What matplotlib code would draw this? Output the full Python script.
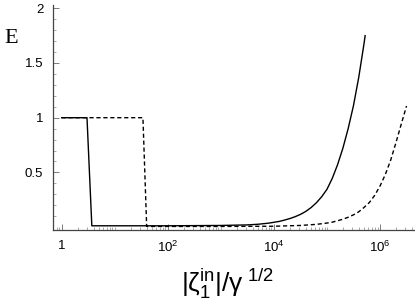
import matplotlib
matplotlib.use("Agg")
import matplotlib.pyplot as plt
from matplotlib.ticker import FixedLocator, NullFormatter
import numpy as np

plt.rcParams['font.family'] = ['Liberation Sans', 'DejaVu Sans']
plt.rcParams['mathtext.fontset'] = 'custom'
plt.rcParams['mathtext.rm'] = 'Liberation Sans'
plt.rcParams['mathtext.it'] = 'Liberation Sans:italic'

# solid curve
solid_x = [1, 3.0, 3.7, 100, 1000, 3162, 5012, 7943, 1e4, 12589, 15849, 19953, 25119,
           31623, 39811, 50119, 63096, 79433, 1e5, 125893, 158489, 199526, 251189,
           316228, 398107, 501187, 524808]
solid_E = [1, 1, 0.012, 0.012, 0.015, 0.02, 0.026, 0.036, 0.044, 0.052, 0.064, 0.078, 0.095,
           0.116, 0.143, 0.178, 0.222, 0.277, 0.345, 0.445, 0.57, 0.72, 0.9,
           1.11, 1.37, 1.68, 1.75]

# dashed curve
dash_x = [1, 34, 40, 1000, 1e4, 31623, 63096, 1e5, 125893, 158489, 199526, 251189,
          316228, 398107, 501187, 630957, 794328, 1e6, 1258925, 1584893, 1995262,
          2511886, 3162278]
dash_E = [1, 1, 0.006, 0.006, 0.008, 0.015, 0.025, 0.037, 0.045, 0.058, 0.072, 0.09,
          0.112, 0.14, 0.18, 0.225, 0.29, 0.375, 0.48, 0.61, 0.77,
          0.94, 1.107]

xticks = [1, 1e2, 1e4, 1e6]
xtick_labels = ['1', r'$10^2$', r'$10^4$', r'$10^6$']
yticks = [0.5, 1, 1.5, 2]
ytick_labels = ['0.5', '1', '1.5', '2']

fig = plt.figure(figsize=(4.15, 3.06), dpi=100)
ax = fig.add_axes([53/415, 76/306, 362/415, 225/306])

ax.plot(solid_x, solid_E, color='black', lw=1.0)
ax.plot(dash_x, dash_E, color='black', lw=1.0, dashes=(3, 2))

ax.set_xscale('log')
ax.set_xlim(0.686, 4.57e6)
ax.set_ylim(-0.0265, 2.03)

for s in ['top', 'right']:
    ax.spines[s].set_visible(False)
for s in ['left', 'bottom']:
    ax.spines[s].set_color('#444444')
    ax.spines[s].set_linewidth(0.9)

ax.xaxis.set_major_locator(FixedLocator(xticks))
ax.set_xticklabels(xtick_labels)
minors = [m * 10**k for k in range(-1, 7) for m in range(1, 10)]
minors = [v for v in minors if v not in xticks]
ax.xaxis.set_minor_locator(FixedLocator(minors))
ax.xaxis.set_minor_formatter(NullFormatter())

ax.set_yticks(yticks)
ax.set_yticklabels(ytick_labels)
ax.yaxis.set_minor_locator(FixedLocator(np.arange(0.1, 2.0, 0.1)))

ax.tick_params(which='major', direction='in', length=4, width=0.6, color='#666666', labelsize=9.5, pad=7)
ax.tick_params(which='minor', direction='in', length=2, width=0.5, color='#888888')

fig.text(4/415, 1 - 43/306, 'E', family='Liberation Serif', fontsize=16, ha='left', va='baseline')
fig.text(228/415, 1 - 284/306, r'$|\mathrm{ζ}_1^{\mathrm{in}}|/\mathrm{γ}^{\ \mathrm{1/2}}$',
         fontsize=19, ha='center', va='center')

fig.savefig('out.png', dpi=100)
